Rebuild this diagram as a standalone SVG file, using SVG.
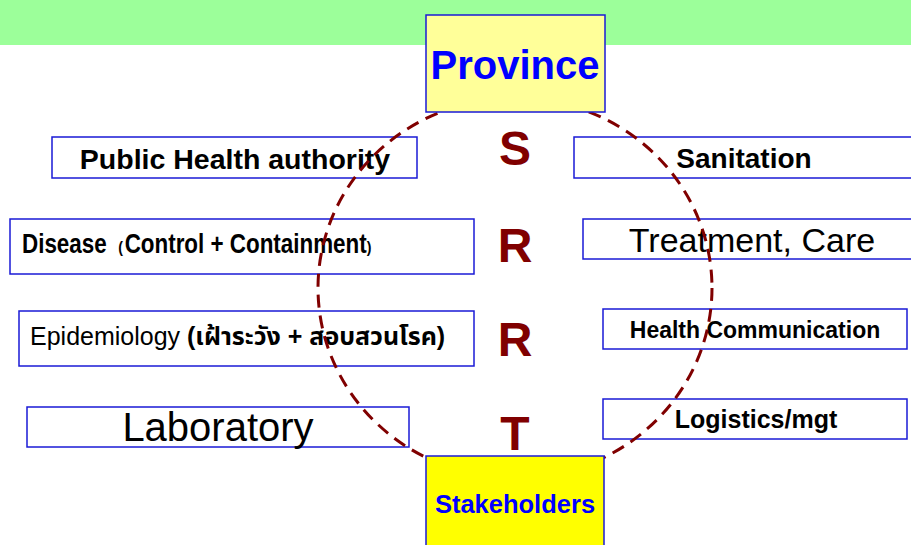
<svg xmlns="http://www.w3.org/2000/svg" width="911" height="545" viewBox="0 0 911 545">
  <style>
    .box { fill: #ffffff; stroke: #1a1ad6; stroke-width: 1.5; }
    .t { font-family: "Liberation Sans", Arial, sans-serif; fill: #000000; }
    .b { font-weight: bold; }
    .letter { font-family: "Liberation Sans", Arial, sans-serif; font-weight: bold; font-size: 48px; fill: #800000; text-anchor: middle; }
    .hub { stroke: #1a1ad6; stroke-width: 1.5; }
    .hubtext { font-family: "Liberation Sans", Arial, sans-serif; font-weight: bold; fill: #0000ff; text-anchor: middle; }
    .ring { fill: none; stroke: #800000; stroke-width: 3; stroke-dasharray: 13 8; }
  </style>

  <!-- header band -->
  <rect x="0" y="0" width="911" height="45" fill="#9cff9a"/>

  <!-- left column -->
  <g id="public-health">
    <rect class="box" x="52" y="137" width="365" height="41"/>
    <text class="t b" x="235" y="169" font-size="28.5" text-anchor="middle">Public Health authority</text>
  </g>
  <g id="disease">
    <rect class="box" x="10" y="219" width="464" height="55"/>
    <!-- condensed bold line, narrowed horizontally -->
    <text class="t b" transform="translate(22 253) scale(0.83 1)" font-size="27"><tspan>Disease</tspan><tspan dx="14" font-size="17">(</tspan><tspan dx="2">Control + Containment</tspan><tspan font-size="17">)</tspan></text>
  </g>
  <g id="epidemiology">
    <rect class="box" x="19" y="311" width="455" height="55"/>
    <text class="t" x="30" y="345" font-size="25">Epidemiology <tspan font-weight="bold" font-family="'Liberation Sans', 'Noto Sans Thai', 'Noto Sans', sans-serif">(เฝ้าระวัง + สอบสวนโรค)</tspan></text>
  </g>
  <g id="laboratory">
    <rect class="box" x="27" y="407" width="382" height="40"/>
    <text class="t" x="218" y="441" font-size="40" text-anchor="middle">Laboratory</text>
  </g>

  <!-- right column -->
  <g id="sanitation">
    <rect class="box" x="574" y="137" width="345" height="41"/>
    <text class="t b" x="744" y="168" font-size="28" text-anchor="middle">Sanitation</text>
  </g>
  <g id="treatment">
    <rect class="box" x="583" y="219" width="336" height="40"/>
    <text class="t" x="752" y="252" font-size="34" text-anchor="middle">Treatment, Care</text>
  </g>
  <g id="health-communication">
    <rect class="box" x="603" y="309" width="304" height="40"/>
    <text class="t b" x="755" y="338" font-size="23" text-anchor="middle">Health Communication</text>
  </g>
  <g id="logistics">
    <rect class="box" x="603" y="399" width="304" height="40"/>
    <text class="t b" x="756" y="428" font-size="25" text-anchor="middle">Logistics/mgt</text>
  </g>

  <!-- SRRT letters -->
  <g id="srrt">
    <text class="letter" x="515" y="165">S</text>
    <text class="letter" x="515" y="262">R</text>
    <text class="letter" x="515" y="356">R</text>
    <text class="letter" x="515" y="450">T</text>
  </g>

  <!-- dashed ring linking province and stakeholders -->
  <g id="connectors">
    <ellipse class="ring" cx="515" cy="288" rx="197" ry="190"/>
  </g>

  <g id="province">
    <rect class="hub" x="426" y="15" width="179" height="97" fill="#ffff99"/>
    <text class="hubtext" x="515" y="79" font-size="40">Province</text>
  </g>
  <g id="stakeholders">
    <rect class="hub" x="426" y="456" width="178" height="100" fill="#ffff00"/>
    <text class="hubtext" x="515" y="513" font-size="25.5">Stakeholders</text>
  </g>
</svg>
